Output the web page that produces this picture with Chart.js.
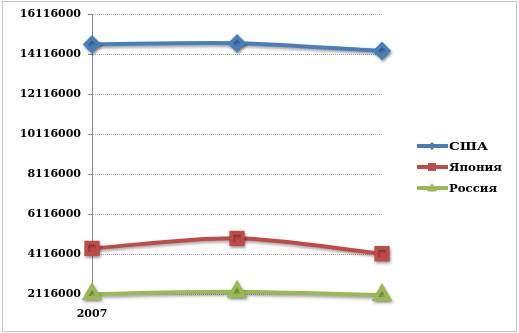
<!DOCTYPE html>
<html>
<head>
<meta charset="utf-8">
<script src="https://cdn.jsdelivr.net/npm/chart.js@4"></script>
<style>
  html, body { margin: 0; padding: 0; background: #fff; }
  #wrap { width: 519px; height: 333px; position: relative; }
</style>
</head>
<body>
<div id="wrap"><canvas id="chart" width="519" height="333"></canvas></div>
<script>
// Chart values
var years = ['2007', '', ''];
var usa = [14600000, 14650000, 14270000];
var japan = [4400000, 4900000, 4130000];
var russia = [2120000, 2230000, 2060000];
var yTicks = [2116000, 4116000, 6116000, 8116000, 10116000, 12116000, 14116000, 16116000];
var seriesNames = ['США', 'Япония', 'Россия'];

var colors = {
  usa: '#4a7ebb',
  japan: '#be4b48',
  russia: '#98b954'
};

var FONT = '"DejaVu Serif", "Liberation Serif", serif';

// Outer dotted frame + legend with line/marker samples
var framePlugin = {
  id: 'frame',
  beforeDraw: function (chart) {
    var ctx = chart.ctx;
    ctx.save();
    ctx.strokeStyle = '#8c8c8c';
    ctx.lineWidth = 1;
    ctx.setLineDash([1, 1]);
    ctx.strokeRect(2.5, 1.5, 514, 330);
    ctx.restore();
  },
  afterDraw: function (chart) {
    var ctx = chart.ctx;
    var rows = [146, 167, 188];
    ctx.save();
    chart.data.datasets.forEach(function (ds, i) {
      var y = rows[i];
      ctx.strokeStyle = ds.borderColor;
      ctx.lineWidth = 4;
      ctx.beginPath();
      ctx.moveTo(417, y);
      ctx.lineTo(448, y);
      ctx.stroke();
      ctx.fillStyle = ds.backgroundColor;
      ctx.beginPath();
      if (ds.pointStyle === 'rectRot') {
        ctx.moveTo(432, y - 4); ctx.lineTo(436, y); ctx.lineTo(432, y + 4); ctx.lineTo(428, y);
      } else if (ds.pointStyle === 'rect') {
        ctx.rect(428, y - 4, 8, 8);
      } else {
        ctx.moveTo(432, y - 5); ctx.lineTo(437, y + 3.5); ctx.lineTo(427, y + 3.5);
      }
      ctx.closePath();
      ctx.fill();
      // stretched text, like the scaled picture
      ctx.fillStyle = '#000';
      ctx.font = 'bold 11px ' + FONT;
      ctx.textBaseline = 'middle';
      var w = ctx.measureText(ds.label).width;
      var target = [39, 53, 48][i];
      ctx.save();
      ctx.translate(449, y + 1);
      ctx.scale(target / w, 1);
      ctx.fillText(ds.label, 0, 0);
      ctx.restore();
    });
    ctx.restore();
  },
  beforeDatasetsDraw: function (chart) {
    var ctx = chart.ctx;
    ctx.save();
    ctx.shadowColor = 'rgba(0,0,0,0.35)';
    ctx.shadowBlur = 3;
    ctx.shadowOffsetX = 1;
    ctx.shadowOffsetY = 2;
  },
  afterDatasetsDraw: function (chart) {
    chart.ctx.restore();
  }
};

new Chart(document.getElementById('chart'), {
  type: 'line',
  data: {
    labels: years,
    datasets: [{
      label: seriesNames[0],
      data: usa,
      borderColor: colors.usa,
      backgroundColor: colors.usa,
      borderWidth: 4,
      pointStyle: 'rectRot',
      pointRadius: 6.5,
      tension: 0.25,
      clip: false
    }, {
      label: seriesNames[1],
      data: japan,
      borderColor: colors.japan,
      backgroundColor: colors.japan,
      borderWidth: 4,
      pointStyle: 'rect',
      pointRadius: 8,
      tension: 0.3,
      clip: false
    }, {
      label: seriesNames[2],
      data: russia,
      borderColor: colors.russia,
      backgroundColor: colors.russia,
      borderWidth: 4,
      pointStyle: 'triangle',
      pointRadius: 8,
      tension: 0.25,
      clip: false
    }]
  },
  options: {
    responsive: false,
    animation: false,
    layout: { padding: { top: 14, right: 137, bottom: 0, left: 0 } },
    plugins: {
      legend: { display: false },
      tooltip: { enabled: false }
    },
    scales: {
      x: {
        offset: false,
        grid: { display: false },
        border: { display: false },
        ticks: {
          autoSkip: false,
          maxRotation: 0,
          color: '#000',
          padding: 6,
          font: { family: FONT, size: 11, weight: 'bold' }
        },
        afterFit: function (scale) { scale.height = 39; }
      },
      y: {
        min: yTicks[0],
        max: yTicks[yTicks.length - 1],
        afterBuildTicks: function (scale) {
          scale.ticks = yTicks.map(function (v) { return { value: v }; });
        },
        grid: {
          color: '#a6a6a6',
          tickLength: 4,
          tickColor: '#8c8c8c'
        },
        border: { color: '#8c8c8c', dash: [1, 1] },
        ticks: {
          color: '#000',
          padding: 7,
          font: { family: FONT, size: 11, weight: 'bold' },
          callback: function (v) { return String(v); }
        },
        afterFit: function (scale) { scale.width = 92; }
      }
    }
  },
  plugins: [framePlugin]
});
</script>
</body>
</html>
